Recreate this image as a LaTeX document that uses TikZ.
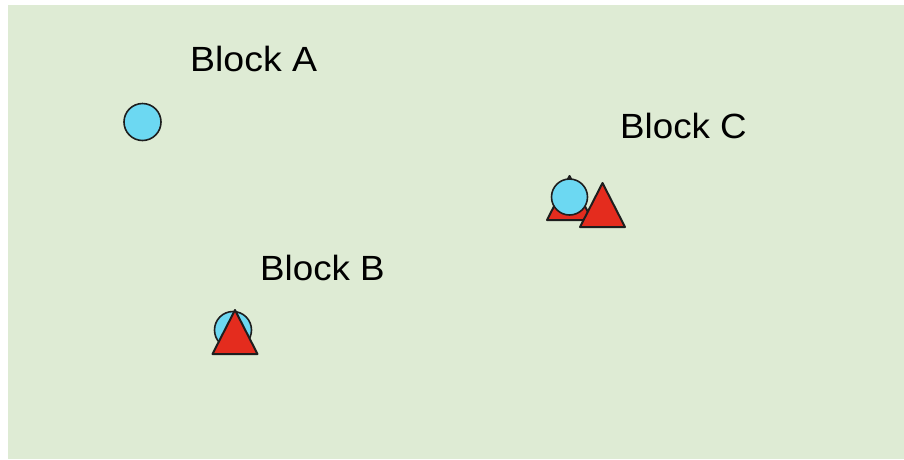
\documentclass[tikz,border=0pt]{standalone}
\usepackage{fontspec}
\setmainfont{Liberation Sans}
\usepackage{graphicx}
\usetikzlibrary{calc}
\definecolor{fieldgreen}{RGB}{222,235,212}
\definecolor{markblue}{RGB}{108,216,242}
\definecolor{markred}{RGB}{228,44,30}
\definecolor{edgedark}{RGB}{30,30,30}
\tikzset{
  label text/.style={anchor=base west, inner sep=0pt, font=\fontsize{35}{42}\selectfont, text=black},
  dot/.style={draw=edgedark, line width=1.6pt, fill=markblue},
  tri/.style={draw=edgedark, line width=2pt, fill=markred, line join=round},
}
% draws an upward triangle centred at #1 (width 45, height 44; y grows downward)
\newcommand{\uptri}[1]{%
  \path[tri] ($(#1)+(-22.5,22)$) -- ($(#1)+(0,-22)$) -- ($(#1)+(22.5,22)$) -- cycle;}
\begin{document}
\begin{tikzpicture}[x=1pt,y=-1pt]
  \useasboundingbox (0,0) rectangle (904,459);
  \fill[white] (0,0) rectangle (904,459);
  \fill[fieldgreen] (8,5) rectangle (904,459);

  % labels
  \node[label text] (la) at (190,71) {\scalebox{1.07}[1]{Block A}};
  \node[label text] (lb) at (260,280) {\scalebox{1.05}[1]{Block B}};
  \node[label text] (lc) at (620,138) {\scalebox{1.05}[1]{Block C}};

  % positions of the markers
  \coordinate (a1) at (142.5,122);
  \coordinate (b1) at (233,330);
  \coordinate (b2) at (235,332);
  \coordinate (c0) at (569.5,198);
  \coordinate (c1) at (569.5,197);
  \coordinate (c2) at (602.5,205);

  % Block A
  \fill[dot] (a1) circle (18.5);

  % Block B
  \fill[dot] (b1) circle (18.5);
  \uptri{b2}

  % Block C
  \uptri{c0}
  \fill[dot] (c1) circle (18);
  \uptri{c2}
\end{tikzpicture}
\end{document}
